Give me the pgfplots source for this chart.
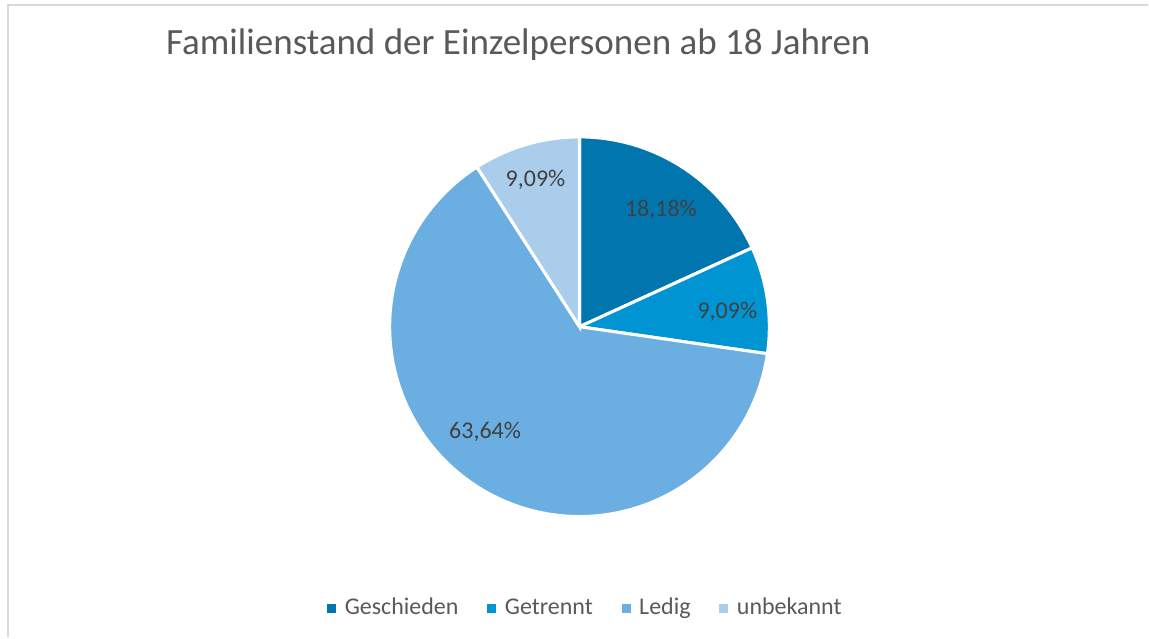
\documentclass[border=0pt]{standalone}
\usepackage{pgfplots}
\pgfplotsset{compat=1.18}
\usepackage{fontspec}
\setmainfont{Carlito}
\definecolor{cGesch}{HTML}{0176AE}
\definecolor{cGetr}{HTML}{0194D3}
\definecolor{cLedig}{HTML}{6AAEE2}
\definecolor{cUnb}{HTML}{AACDEC}
\definecolor{txtA}{HTML}{404040}
\definecolor{txtB}{HTML}{595959}
\definecolor{frame}{HTML}{D9D9D9}
\begin{document}
\begin{tikzpicture}
\begin{axis}[
  width=861.75pt, height=478.5pt, scale only axis,
  xmin=0, xmax=1149, ymin=0, ymax=638,
  hide axis, clip=false,
  legend columns=4,
  legend style={draw=none, fill=none, at={(axis cs:585,29)}, anchor=center,
    inner sep=0pt,
    font=\fontsize{18pt}{20pt}\selectfont, text=txtB,
    nodes={inner sep=0pt, text height=13pt, text depth=4pt},
    /tikz/every even column/.append style={column sep=21.7pt},
    /tikz/every odd column/.append style={column sep=6.4pt}},
  legend image code/.code={\fill[#1,draw=none] (0pt,-3.35pt) rectangle (6.7pt,3.35pt);},
]
% full canvas (bounding box)
\path (axis cs:0,0) rectangle (axis cs:1149,638);
% frame
\draw[frame, line width=1.5pt] (axis cs:8,0) -- (axis cs:8,633) -- (axis cs:1149,633);
% slices: shares 18.18, 9.09, 63.64, 9.09 percent (2, 1, 7, 1 of 11), clockwise from 90 deg
\addplot[fill=cGesch, draw=white, line width=2.3pt, domain=24.545:90, samples=90]
  ({580+190*cos(x)},{311+190*sin(x)}) -- (axis cs:580,311) -- cycle;
\addlegendentry{Geschieden}
\addplot[fill=cGetr, draw=white, line width=2.3pt, domain=-8.182:24.545, samples=60]
  ({580+190*cos(x)},{311+190*sin(x)}) -- (axis cs:580,311) -- cycle;
\addlegendentry{Getrennt}
\addplot[fill=cLedig, draw=white, line width=2.3pt, domain=-237.273:-8.182, samples=200]
  ({580+190*cos(x)},{311+190*sin(x)}) -- (axis cs:580,311) -- cycle;
\addlegendentry{Ledig}
\addplot[fill=cUnb, draw=white, line width=2.3pt, domain=-270:-237.273, samples=60]
  ({580+190*cos(x)},{311+190*sin(x)}) -- (axis cs:580,311) -- cycle;
\addlegendentry{unbekannt}
% data labels
\node[anchor=base, text=txtA, font=\fontsize{18pt}{20pt}\selectfont, inner sep=0pt] at (axis cs:661.5,421) {18,18\%};
\node[anchor=base, text=txtA, font=\fontsize{18pt}{20pt}\selectfont, inner sep=0pt] at (axis cs:728,319) {9,09\%};
\node[anchor=base, text=txtA, font=\fontsize{18pt}{20pt}\selectfont, inner sep=0pt] at (axis cs:485.5,199) {63,64\%};
\node[anchor=base, text=txtA, font=\fontsize{18pt}{20pt}\selectfont, inner sep=0pt] at (axis cs:536,451) {9,09\%};
% title
\node[anchor=base west, text=txtB, font=\fontsize{27.8pt}{32pt}\selectfont, inner sep=0pt] at (axis cs:166,583) {Familienstand der Einzelpersonen ab 18 Jahren};
\end{axis}
\end{tikzpicture}
\end{document}
